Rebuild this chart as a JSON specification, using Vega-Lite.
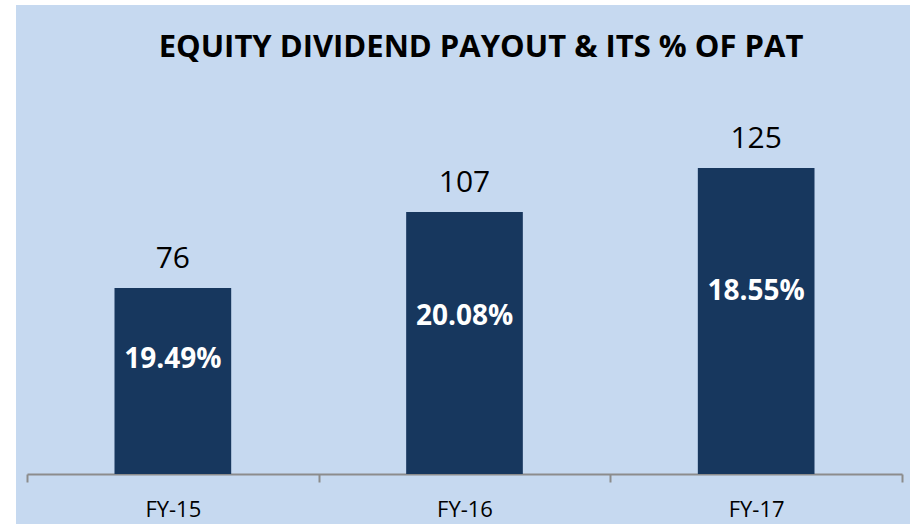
{
  "$schema": "https://vega.github.io/schema/vega-lite/v6.json",
  "width": 894,
  "height": 519,
  "autosize": "none",
  "padding": {"left": 16, "top": 5, "right": 0, "bottom": 0},
  "background": "white",
  "config": {"view": {"fill": "#c6d9f0", "stroke": null}, "font": "Open Sans"},
  "title": {
    "text": "EQUITY DIVIDEND PAYOUT & ITS % OF PAT",
    "font": "Open Sans",
    "fontSize": 31,
    "fontWeight": "bold",
    "color": "#000000",
    "anchor": "middle",
    "orient": "top",
    "baseline": "alphabetic",
    "offset": -53,
    "dx": 18,
    "dy": 30
  },
  "data": {
    "values": [
      {"year": "FY-15", "payout": 76, "pct": "19.49%"},
      {"year": "FY-16", "payout": 107, "pct": "20.08%"},
      {"year": "FY-17", "payout": 125, "pct": "18.55%"}
    ]
  },
  "encoding": {
    "x": {
      "field": "year",
      "type": "nominal",
      "sort": null,
      "scale": {"range": [11, 886], "paddingInner": 0, "paddingOuter": 0},
      "axis": {
        "title": null,
        "orient": "bottom",
        "offset": -50,
        "grid": false,
        "domainColor": "#8c8c8c",
        "domainWidth": 2,
        "tickColor": "#8c8c8c",
        "tickWidth": 2,
        "tickSize": 8,
        "tickBand": "extent",
        "labelFont": "Open Sans",
        "labelFontSize": 22,
        "labelColor": "#000000",
        "labelPadding": 17,
        "labelAngle": 0
      }
    }
  },
  "layer": [
    {
      "mark": {"type": "bar", "color": "#17375e", "width": {"band": 0.4}},
      "encoding": {
        "y": {"field": "payout", "type": "quantitative", "scale": {"domain": [-20.4, 191.6], "nice": false, "zero": false}, "axis": null},
        "y2": {"datum": 0}
      }
    },
    {
      "mark": {"type": "text", "baseline": "alphabetic", "dy": -20, "fontSize": 30, "color": "#000000", "font": "Open Sans"},
      "encoding": {
        "y": {"field": "payout", "type": "quantitative", "scale": {"domain": [-20.4, 191.6], "nice": false, "zero": false}, "axis": null},
        "text": {"field": "payout", "type": "quantitative"}
      }
    },
    {
      "mark": {"type": "text", "baseline": "alphabetic", "fontSize": 28, "fontWeight": "bold", "color": "#ffffff", "font": "Open Sans"},
      "encoding": {
        "y": {"field": "payout", "type": "quantitative", "scale": {"domain": [-36, 337.7], "nice": false, "zero": false}, "axis": null},
        "text": {"field": "pct", "type": "nominal"}
      }
    }
  ],
  "resolve": {"scale": {"y": "independent"}}
}
